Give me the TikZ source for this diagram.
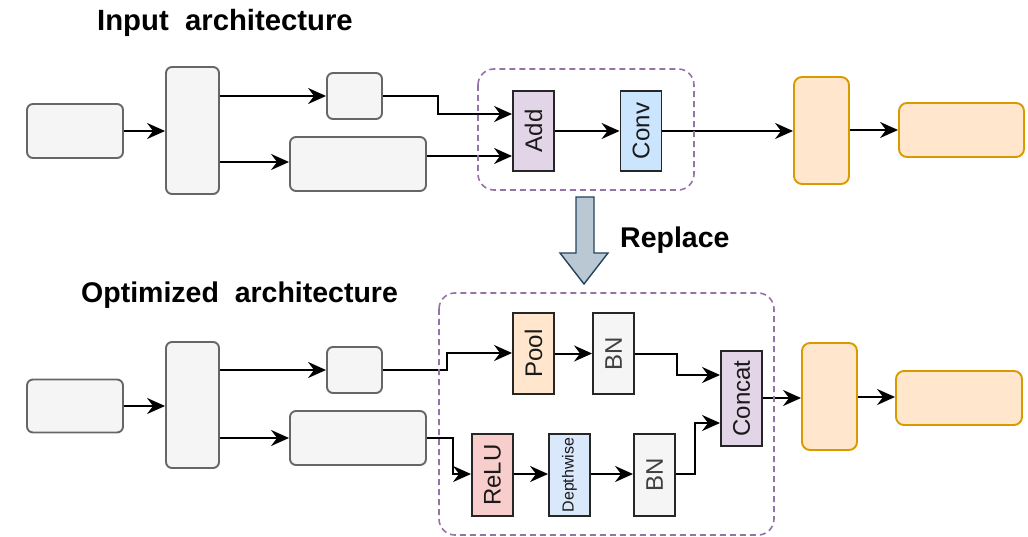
\documentclass[tikz,border=0pt]{standalone}
\usepackage{fontspec}
\setmainfont{Liberation Sans}
\usepackage{graphicx}
\usetikzlibrary{arrows.meta}
\definecolor{gfill}{HTML}{F5F5F5}
\definecolor{gline}{HTML}{666666}
\definecolor{ofill}{HTML}{FFE6CC}
\definecolor{oline}{HTML}{D79B00}
\definecolor{pfill}{HTML}{E1D5E7}
\definecolor{pline}{HTML}{9673A6}
\definecolor{bfill}{HTML}{CCE5FF}
\definecolor{dfill}{HTML}{DAE8FC}
\definecolor{rfill}{HTML}{F8CECC}
\definecolor{afill}{HTML}{BAC8D3}
\definecolor{aline}{HTML}{23445D}
\definecolor{txt}{HTML}{1A1A1A}
\tikzset{
  x=1pt, y=-1pt,
  graybox/.style={draw=gline, fill=gfill, line width=1.9pt, rounded corners=6pt, inner sep=0pt},
  orangebox/.style={draw=oline, fill=ofill, line width=1.9pt, rounded corners=8pt, inner sep=0pt},
  opbox/.style={draw=black!85, line width=1.9pt, inner sep=0pt, minimum width=41pt, text=txt,
     font=\fontsize{24}{24}\selectfont},
  group/.style={draw=pline, line width=1.6pt, dash pattern=on 6pt off 4pt, rounded corners=16pt},
  conn/.style={draw=black, line width=2pt, -{Stealth[length=18pt,width=16pt,inset=6pt]}},
  title/.style={anchor=base west, inner sep=0pt, font=\bfseries}
}
\begin{document}
\begin{tikzpicture}
\useasboundingbox (0,0) rectangle (1028,537);
% ---------- titles ----------
\node[title, font=\bfseries\fontsize{29.3}{29.3}\selectfont] (t1) at (97,31) {Input\ \ architecture};
\node[title, font=\bfseries\fontsize{28.5}{28.5}\selectfont] (t2) at (81,302) {Optimized\ \ architecture};
\node[title, font=\bfseries\fontsize{28.5}{28.5}\selectfont] (t3) at (620,248) {Replace};

% ---------- top row ----------
\node[graybox, minimum width=96pt, minimum height=54pt] (a1) at (75,131) {};
\node[graybox, minimum width=53pt, minimum height=127pt] (b1) at (192.5,130.5) {};
\node[graybox, minimum width=55pt, minimum height=46pt] (c1) at (354.5,96) {};
\node[graybox, minimum width=136pt, minimum height=54pt] (d1) at (358,164) {};
\node[opbox, fill=pfill, minimum height=80pt] (add) at (533.5,131) {\rotatebox{90}{Add}};
\node[opbox, fill=bfill, minimum height=80pt] (conv) at (641,131) {\rotatebox{90}{Conv}};
\node[orangebox, minimum width=55pt, minimum height=107pt] (e1) at (821.5,130.5) {};
\node[orangebox, minimum width=125pt, minimum height=54pt] (f1) at (961.5,130) {};

\draw[conn] (a1.east) -- (b1.west |- a1.east);
\draw[conn] (b1.east |- c1.west) -- (c1.west);
\draw[conn] (b1.east |- 0,162) -- (d1.west |- 0,162);
\coordinate (j1) at (438,114);
\draw[conn] (c1.east) -| (j1) -- (add.west |- j1);
\draw[conn] (d1.east |- 0,156) -- (add.west |- 0,156);
\draw[conn] (add.east) -- (conv.west);
\draw[conn] (conv.east) -- (e1.west |- conv.east);
\draw[conn] (e1.east |- f1.west) -- (f1.west);

\draw[group] (478,69) rectangle (694,190);

% ---------- replace arrow ----------
\draw[draw=aline, fill=afill, line width=1.4pt, line join=miter]
  (576,197) -- (594,197) -- (594,253) -- (608,253) -- (584,284) -- (560,253) -- (576,253) -- cycle;

% ---------- bottom row ----------
\node[graybox, minimum width=96pt, minimum height=53pt] (a2) at (75,406) {};
\node[graybox, minimum width=53pt, minimum height=126pt] (b2) at (192.5,405) {};
\node[graybox, minimum width=55pt, minimum height=46pt] (c2) at (354.5,370) {};
\node[graybox, minimum width=136pt, minimum height=54pt] (d2) at (358,438) {};
\node[opbox, fill=ofill, minimum height=81pt] (pool) at (533.5,353.5) {\rotatebox{90}{Pool}};
\node[opbox, fill=gfill, minimum height=81pt, text=black!75] (bn1) at (613.5,353.5) {\rotatebox{90}{BN}};
\node[opbox, fill=pfill, minimum height=95pt] (concat) at (741.5,398.5) {\rotatebox{90}{Concat}};
\node[opbox, fill=rfill, minimum height=82pt] (relu) at (492.5,475) {\rotatebox{90}{ReLU}};
\node[opbox, fill=dfill, minimum height=82pt, font=\fontsize{16}{16}\selectfont] (dw) at (569.5,475) {\rotatebox{90}{Depthwise}};
\node[opbox, fill=gfill, minimum height=82pt, text=black!75] (bn2) at (654.5,475) {\rotatebox{90}{BN}};
\node[orangebox, minimum width=55pt, minimum height=107pt] (e2) at (829.5,396.5) {};
\node[orangebox, minimum width=126pt, minimum height=54pt] (f2) at (959,398) {};

\draw[conn] (a2.east) -- (b2.west |- a2.east);
\draw[conn] (b2.east |- c2.west) -- (c2.west);
\draw[conn] (b2.east |- d2.west) -- (d2.west);
\coordinate (j2) at (447,353);
\draw[conn] (c2.east) -| (j2) -- (pool.west |- j2);
\coordinate (j3) at (453,474);
\draw[conn] (d2.east) -| (j3) -- (relu.west |- j3);
\draw[conn] (pool.east) -- (bn1.west);
\draw[conn] (relu.east |- j3) -- (dw.west |- j3);
\draw[conn] (dw.east |- j3) -- (bn2.west |- j3);
\coordinate (j4) at (677,375);
\draw[conn] (bn1.east) -| (j4) -- (concat.west |- j4);
\coordinate (j5) at (695,423);
\draw[conn] (bn2.east |- j3) -| (j5) -- (concat.west |- j5);
\draw[conn] (concat.east |- 0,398) -- (e2.west |- 0,398);
\draw[conn] (e2.east |- 0,397) -- (f2.west |- 0,397);

\draw[group] (439,293) rectangle (774,535);
\end{tikzpicture}
\end{document}
